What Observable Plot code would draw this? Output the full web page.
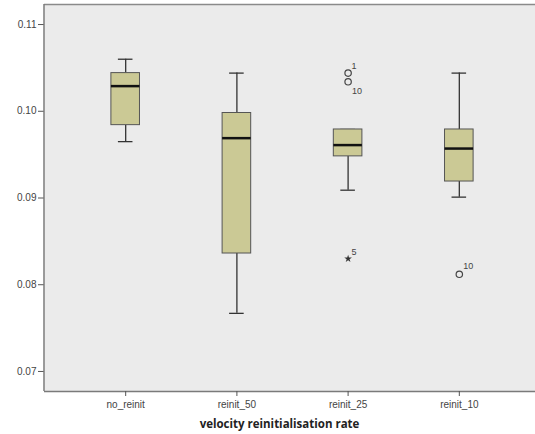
<!DOCTYPE html>
<html>
<head>
<meta charset="utf-8">
<script src="https://cdn.jsdelivr.net/npm/d3@7"></script>
<script src="https://cdn.jsdelivr.net/npm/@observablehq/plot@0.6"></script>
<style>
  body { margin: 0; background: #fff; }
  svg { display: block; }
</style>
</head>
<body>
<div id="chart"></div>
<script>
const categories = ["no_reinit", "reinit_50", "reinit_25", "reinit_10"];
const whiskerLow  = [0.0965, 0.0767, 0.0909, 0.0901];
const q1          = [0.0984, 0.0836, 0.0948, 0.0919];
const median      = [0.1029, 0.0969, 0.0961, 0.0957];
const q3          = [0.1044, 0.0998, 0.0979, 0.0979];
const whiskerHigh = [0.1060, 0.1044, 0.0979, 0.1044];

const outlierCat   = ["reinit_25", "reinit_25", "reinit_25", "reinit_10"];
const outlierValue = [0.1044, 0.1034, 0.0830, 0.0812];
const outlierLabel = ["1", "10", "5", "10"];
const outlierKind  = ["circle", "circle", "extreme", "circle"];

const yTicks = [0.07, 0.08, 0.09, 0.10, 0.11];

const boxes = categories.map((c, i) => ({
  cat: c, lo: whiskerLow[i], q1: q1[i], med: median[i], q3: q3[i], hi: whiskerHigh[i]
}));
const outliers = outlierCat.map((c, i) => ({
  cat: c, v: outlierValue[i], label: outlierLabel[i], kind: outlierKind[i]
}));
// label offsets (style only)
const labelOffsets = [[6, -7], [9, 9], [6, -7], [9, -8]];

const yDomain = [0.06769, 0.11231];
const AX_FONT = "Liberation Sans, Arial, sans-serif";

const chart = Plot.plot({
  width: 535,
  height: 434,
  marginLeft: 44,
  marginRight: 0,
  marginTop: 4,
  marginBottom: 43,
  style: { fontFamily: AX_FONT, fontSize: "10px", color: "#444", background: "#fff" },
  x: { domain: categories, range: [44, 540], paddingInner: 0.743, paddingOuter: 0.6015, round: false, label: null },
  y: { domain: yDomain, ticks: yTicks, tickFormat: d3.format(".2f"), label: null },
  marks: [
    Plot.frame({ fill: "#ebebeb", stroke: null }),
    Plot.ruleY([yDomain[1]], { stroke: "#8a8a8a", strokeWidth: 1.5 }),
    Plot.ruleY([yDomain[0]], { stroke: "#7a7a7a", strokeWidth: 1.6 }),
    Plot.axisY({ ticks: yTicks, tickFormat: d3.format(".2f"), tickSize: 6, tickPadding: 2, stroke: "#555", fill: "#444", fontSize: 10, fontFamily: AX_FONT, label: null }),
    Plot.axisX({ tickSize: 5, tickPadding: 4, stroke: "#555", fill: "#444", fontSize: 10, fontFamily: AX_FONT, label: null }),
    // whiskers
    Plot.ruleX(boxes, { x: "cat", y1: "lo", y2: "q1", stroke: "#333", strokeWidth: 1.3 }),
    Plot.ruleX(boxes, { x: "cat", y1: "q3", y2: "hi", stroke: "#333", strokeWidth: 1.3 }),
    Plot.tickY(boxes, { x: "cat", y: "lo", stroke: "#333", strokeWidth: 1.3, inset: 7 }),
    Plot.tickY(boxes, { x: "cat", y: "hi", stroke: "#333", strokeWidth: 1.3, inset: 7 }),
    // boxes
    Plot.barY(boxes, { x: "cat", y1: "q1", y2: "q3", fill: "#cbc995", stroke: "#555", strokeWidth: 1 }),
    // medians
    Plot.tickY(boxes, { x: "cat", y: "med", stroke: "#111", strokeWidth: 2.5 }),
    // outliers
    Plot.dot(outliers.filter(d => d.kind === "circle"), { x: "cat", y: "v", r: 3.2, stroke: "#444", strokeWidth: 1.2, fill: "none" }),
    Plot.dot(outliers.filter(d => d.kind === "extreme"), { x: "cat", y: "v", r: 2.4, symbol: "star", fill: "#333", stroke: "none" }),
    ...outliers.map((d, i) => Plot.text([d], { x: "cat", y: "v", text: "label", dx: labelOffsets[i][0], dy: labelOffsets[i][1], fontSize: 9, fontFamily: AX_FONT, fill: "#444", textAnchor: "middle" })),
    // x axis title
    Plot.text(["velocity reinitialisation rate"], { frameAnchor: "bottom", dx: -10.5, dy: 36, fontFamily: "Open Sans, Lato, sans-serif", fontWeight: "bold", fontSize: 11.5, fill: "#222" })
  ]
});

// left border line of the plot area
const svg = d3.select(chart);
svg.append("line")
  .attr("x1", 44).attr("x2", 44).attr("y1", 4).attr("y2", 391)
  .attr("stroke", "#7a7a7a").attr("stroke-width", 1.5);

document.getElementById("chart").appendChild(chart);
</script>
</body>
</html>
